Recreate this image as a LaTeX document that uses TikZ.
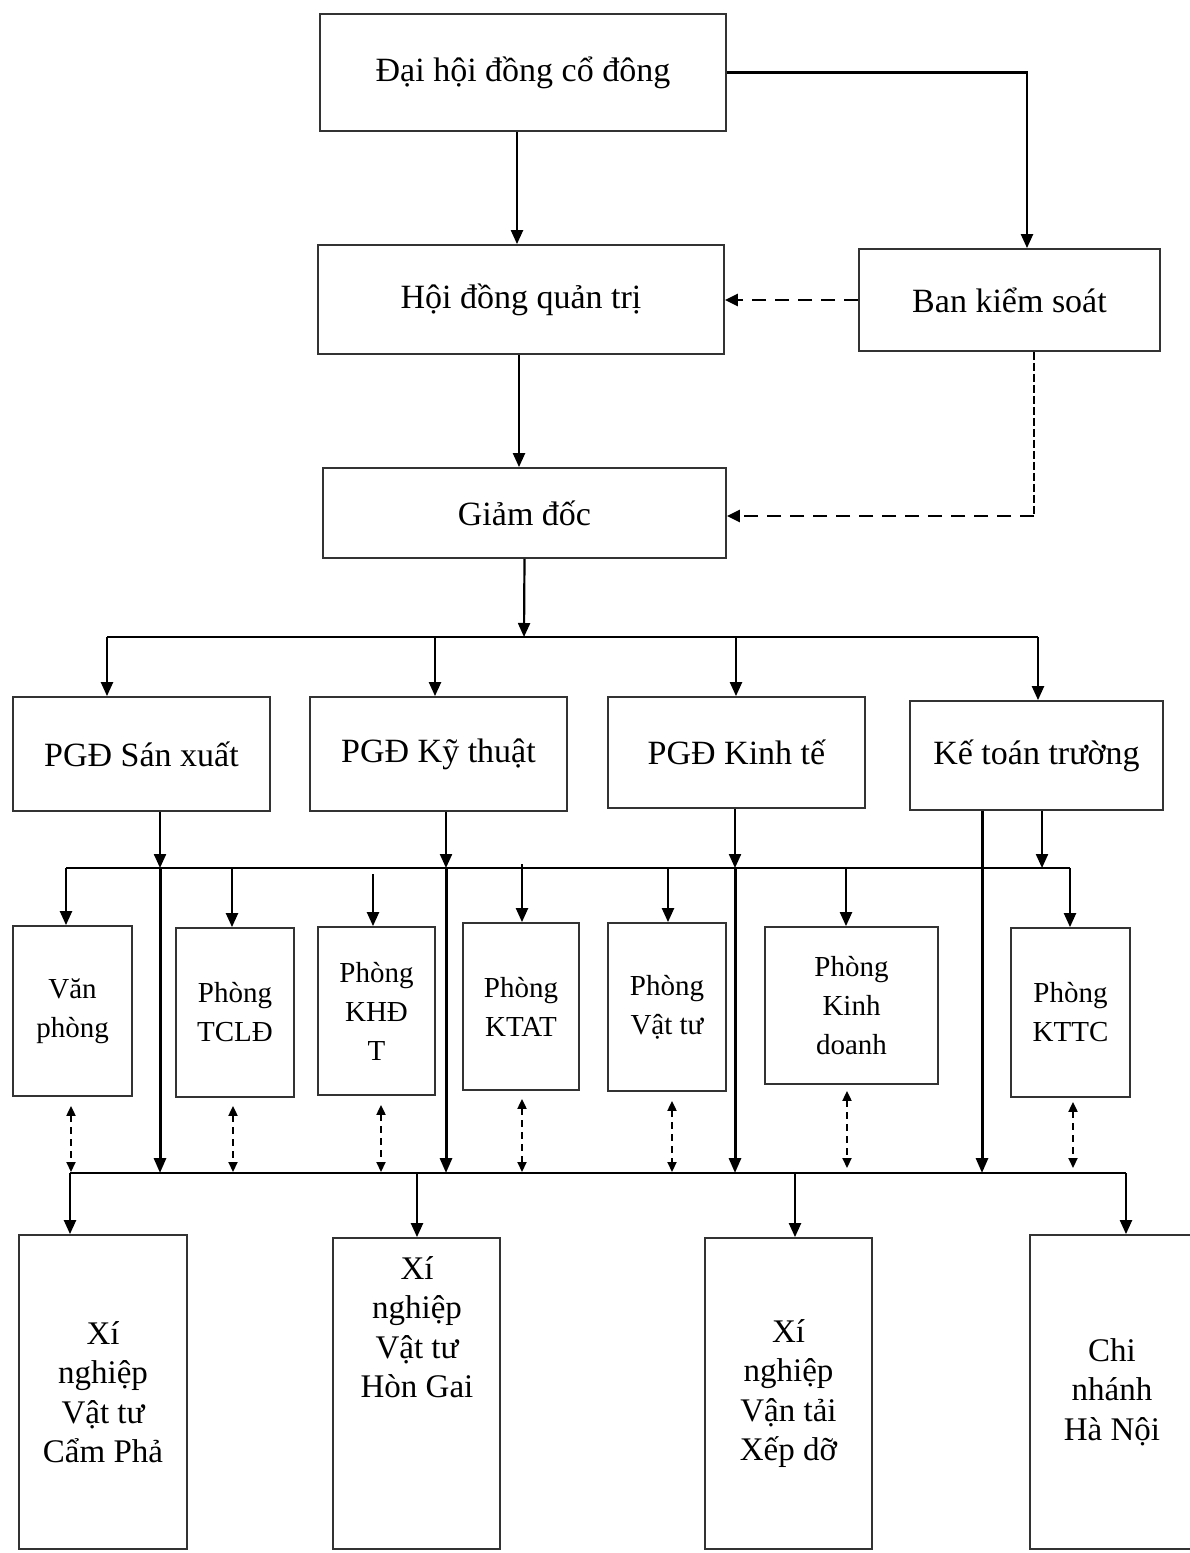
\documentclass[tikz,border=0pt]{standalone}
\usepackage{fontspec}
\setmainfont{Liberation Serif}
\usetikzlibrary{arrows.meta,calc}
\begin{document}
\begin{tikzpicture}[x=1pt,y=-1pt,
 box/.style={draw=black!80, line width=1.8pt, rectangle, inner sep=0pt, align=center, font=\fontsize{34}{40}\selectfont},
 dept/.style={box, font=\fontsize{29}{39}\selectfont},
 big/.style={box, font=\fontsize{33}{39.5}\selectfont},
 conn/.style={line width=2.2pt, draw=black},
 arr/.style={conn, -{Triangle[length=14pt,width=12pt]}},
 arrthick/.style={line width=3pt, draw=black, -{Triangle[length=15pt,width=12pt]}},
 dasharr/.style={line width=2.6pt, draw=black, dash pattern=on 14pt off 9pt, -{Triangle[length=13pt,width=12pt]}},
 thindash/.style={line width=1.4pt, draw=black, dash pattern=on 8pt off 3pt},
 dbl/.style={line width=2pt, draw=black, dash pattern=on 7pt off 5pt, {Triangle[length=10pt,width=9pt]}-{Triangle[length=10pt,width=9pt]}},
 txt/.style={inner sep=0pt, align=center, font=\fontsize{33}{39.5}\selectfont}
]
\fill[white] (0,0) rectangle (1189,1553);
\useasboundingbox (0,0) rectangle (1189,1553);

% top level
\node[box, minimum width=406, minimum height=117] (dh) at (523,72.5) {Đại hội đồng cổ đông};
\node[box, minimum width=406, minimum height=109] (hdqt) at (521,299.5) {Hội đồng quản trị};
\node[box, minimum width=301, minimum height=102] (bks) at (1009.5,300) {Ban kiểm soát};
\node[box, minimum width=403, minimum height=90] (gd) at (524.5,513) {Giảm đốc};

% PGD row
\node[box, minimum width=257, minimum height=114] (p1) at (141.5,754) {PGĐ Sán xuất};
\node[box, minimum width=257, minimum height=114] (p2) at (438.5,754) {PGĐ Kỹ thuật};
\node[box, minimum width=257, minimum height=111] (p3) at (736.5,752.5) {PGĐ Kinh tế};
\node[box, minimum width=253, minimum height=109] (p4) at (1036.5,755.5) {Kế toán trường};

% departments
\node[dept, minimum width=119, minimum height=170] (d1) at (72.5,1011) {Văn\\phòng};
\node[dept, minimum width=118, minimum height=169] (d2) at (235,1012.5) {Phòng\\TCLĐ};
\node[dept, minimum width=117, minimum height=168] (d3) at (376.5,1011) {Phòng\\KHĐ\\T};
\node[dept, minimum width=116, minimum height=167] (d4) at (521,1006.5) {Phòng\\KTAT};
\node[dept, minimum width=118, minimum height=168] (d5) at (667,1007) {Phòng\\Vật tư};
\node[dept, minimum width=173, minimum height=157] (d6) at (851.5,1005.5) {Phòng\\Kinh\\doanh};
\node[dept, minimum width=119, minimum height=169] (d7) at (1070.5,1012.5) {Phòng\\KTTC};

% bottom units
\node[big, minimum width=168, minimum height=314] (b1) at (103,1392) {Xí\\nghiệp\\Vật tư\\Cẩm Phả};
\node[big, minimum width=167, minimum height=311] (b2) at (416.5,1393.5) {};
\node[txt] (b2t) at (417,1327) {Xí\\nghiệp\\Vật tư\\Hòn Gai};
\node[big, minimum width=167, minimum height=311] (b3) at (788.5,1393.5) {Xí\\nghiệp\\Vận tải\\Xếp dỡ};
\node[big, minimum width=164, minimum height=314] (b4) at (1112,1392) {Chi\\nhánh\\Hà Nội};

% top connectors
\draw[arr] ([xshift=-6pt]dh.south) -- ([xshift=-6pt]dh.south |- hdqt.north);
\draw[arr] (dh.east) -| ([xshift=17.5pt]bks.north);
\draw[dasharr] (bks.west) -- (bks.west -| hdqt.east);
\coordinate (bk) at (1034,516);
\draw[thindash] (bk |- bks.south) -- (bk);
\draw[dasharr] (bk) -- (bk -| gd.east);
\draw[arr] ([xshift=-2pt]hdqt.south) -- ([xshift=-2pt]hdqt.south |- gd.north);

% level 1 bus
\coordinate (j1) at (524,637);
\coordinate (h1L) at (107,637);
\coordinate (h1R) at (1038,637);
\coordinate (t2) at (435,637);
\coordinate (t3) at (736,637);
\draw[arr] (gd.south) -- (j1);
\draw[conn] (h1L) -- (h1R);
\draw[arr] (h1L) -- (h1L |- p1.north);
\draw[arr] (t2) -- (t2 |- p2.north);
\draw[arr] (t3) -- (t3 |- p3.north);
\draw[arr] (h1R) -- (h1R |- p4.north);

% level 2 bus (y=868) and bottom bus (y=1173)
\coordinate (h2L) at (66,868);
\coordinate (h2R) at (1070,868);
\coordinate (h3L) at (70,1173);
\coordinate (h3R) at (1126,1173);
\draw[conn] (h2L) -- (h2R);
\draw[conn] (h3L) -- (h3R);

% from PGD boxes
\coordinate (s1) at (160,868);
\coordinate (s2) at (446,868);
\coordinate (s3) at (735,868);
\coordinate (s4) at (1042,868);
\coordinate (k4) at (982,1173);
\draw[arr] (s1 |- p1.south) -- (s1);
\draw[arrthick] (s1) -- (s1 |- h3L);
\draw[arr] (s2 |- p2.south) -- (s2);
\draw[arrthick] (s2) -- (s2 |- h3L);
\draw[arr] (s3 |- p3.south) -- (s3);
\draw[arrthick] (s3) -- (s3 |- h3L);
\draw[arr] (s4 |- p4.south) -- (s4);
\draw[arrthick] (k4 |- p4.south) -- (k4);

% drops to departments
\draw[arr] (h2L) -- (h2L |- d1.north);
\coordinate (e2) at (232,868);
\draw[arr] (e2) -- (e2 |- d2.north);
\coordinate (e3) at (373,874);
\draw[arr] (e3) -- (e3 |- d3.north);
\coordinate (e4) at (522,864);
\draw[arr] (e4) -- (e4 |- d4.north);
\coordinate (e5) at (668,868);
\draw[arr] (e5) -- (e5 |- d5.north);
\coordinate (e6) at (846,868);
\draw[arr] (e6) -- (e6 |- d6.north);
\draw[arr] (h2R) -- (h2R |- d7.north);

% dashed two-way links
\coordinate (f1) at (71,1172);
\coordinate (f2) at (233,1172);
\coordinate (f3) at (381,1172);
\coordinate (f4) at (522,1172);
\coordinate (f5) at (672,1172);
\coordinate (f6) at (847,1168);
\coordinate (f7) at (1073,1168);
\draw[dbl] ($(f1 |- d1.south)+(0,9)$) -- (f1);
\draw[dbl] ($(f2 |- d2.south)+(0,8)$) -- (f2);
\draw[dbl] ($(f3 |- d3.south)+(0,9)$) -- (f3);
\draw[dbl] ($(f4 |- d4.south)+(0,8)$) -- (f4);
\draw[dbl] ($(f5 |- d5.south)+(0,9)$) -- (f5);
\draw[dbl] ($(f6 |- d6.south)+(0,6)$) -- (f6);
\draw[dbl] ($(f7 |- d7.south)+(0,4)$) -- (f7);

% drops to bottom units
\draw[arr] (h3L) -- (h3L |- b1.north);
\coordinate (g2) at (417,1173);
\draw[arr] (g2) -- (g2 |- b2.north);
\coordinate (g3) at (795,1173);
\draw[arr] (g3) -- (g3 |- b3.north);
\draw[arr] (h3R) -- (h3R |- b4.north);
\end{tikzpicture}
\end{document}
